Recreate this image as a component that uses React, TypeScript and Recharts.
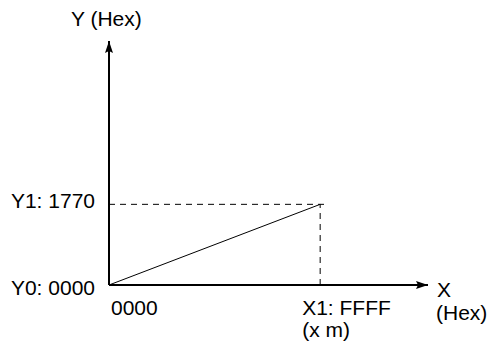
import { LineChart, Line, XAxis, YAxis, ReferenceLine, ReferenceDot } from "recharts";

// X and Y values (decimal of the hex values in the picture)
const xValues = [0, 65535]; // 0000 .. FFFF
const yValues = [0, 6000]; // 0000 .. 1770
const xTickLabels = ["0000", "X1: FFFF"];
const xTickSubLabels = ["", "(x m)"];
const yTickLabels = ["Y0: 0000", "Y1: 1770"];
const xMax = 99000;
const yMax = 18150;
const dashEndX = 67700;

const data = xValues.map((x, i) => ({ x, y: yValues[i] }));

const FONT = "'Liberation Sans', Arial, sans-serif";
const FS = 21;

const XTick = (props: any) => {
  const { x, y, index } = props;
  const dx = index === 0 ? 2 : -18;
  return (
    <g>
      <text x={x + dx} y={y + 22} fontSize={FS} fontFamily={FONT} fill="#000" textAnchor="start">
        {xTickLabels[index]}
      </text>
      {xTickSubLabels[index] ? (
        <text x={x + dx} y={y + 44} fontSize={FS} fontFamily={FONT} fill="#000" textAnchor="start">
          {xTickSubLabels[index]}
        </text>
      ) : null}
    </g>
  );
};

const YTick = (props: any) => {
  const { x, y, index } = props;
  // the lower label sits just under the x axis
  const dy = index === 0 ? 10 : 4;
  return (
    <text x={x - 6} y={y + dy} fontSize={FS} fontFamily={FONT} fill="#000" textAnchor="end">
      {yTickLabels[index]}
    </text>
  );
};

const ArrowRight = (props: any) => {
  const { cx, cy } = props;
  return (
    <polygon
      points={`${cx},${cy} ${cx - 12},${cy - 4} ${cx - 10},${cy} ${cx - 12},${cy + 4}`}
      fill="#000"
    />
  );
};

const ArrowUp = (props: any) => {
  const { cx, cy } = props;
  return (
    <polygon
      points={`${cx},${cy} ${cx - 4},${cy + 12} ${cx},${cy + 10} ${cx + 4},${cy + 12}`}
      fill="#000"
    />
  );
};

export default function App() {
  return (
    <div style={{ position: "absolute", left: 0, top: 0, width: 491, height: 348, background: "#fff" }}>
      <LineChart width={491} height={348} data={data} margin={{ top: 41, right: 63, bottom: 62, left: 108 }}>
        <XAxis
          dataKey="x"
          type="number"
          domain={[0, xMax]}
          ticks={xValues}
          height={1}
          tickLine={false}
          axisLine={{ stroke: "#000", strokeWidth: 2 }}
          tick={<XTick />}
          interval={0}
          label={{
            content: (p: any) => {
              const vb = p.viewBox;
              return (
                <g fontSize={FS} fontFamily={FONT} fill="#000">
                  <text x={vb.x + vb.width + 9} y={vb.y + 12}>X</text>
                  <text x={vb.x + vb.width + 8} y={vb.y + 35}>(Hex)</text>
                </g>
              );
            },
          }}
        />
        <YAxis
          type="number"
          domain={[0, yMax]}
          ticks={yValues}
          width={1}
          tickLine={false}
          axisLine={{ stroke: "#000", strokeWidth: 2 }}
          tick={<YTick />}
          interval={0}
          label={{
            content: (p: any) => {
              const vb = p.viewBox;
              return (
                <text x={vb.x - 37} y={vb.y - 15} fontSize={FS} fontFamily={FONT} fill="#000">
                  Y (Hex)
                </text>
              );
            },
          }}
        />
        <ReferenceLine
          segment={[{ x: 0, y: yValues[1] }, { x: dashEndX, y: yValues[1] }]}
          stroke="#000"
          strokeWidth={1}
          strokeDasharray="6 5"
          ifOverflow="visible"
        />
        <ReferenceLine
          segment={[{ x: xValues[1], y: 0 }, { x: xValues[1], y: yValues[1] }]}
          stroke="#000"
          strokeWidth={1}
          strokeDasharray="6 5"
          ifOverflow="visible"
        />
        <Line dataKey="y" stroke="#000" strokeWidth={1} dot={false} isAnimationActive={false} />
        <ReferenceDot x={xMax} y={0} shape={<ArrowRight />} ifOverflow="visible" />
        <ReferenceDot x={0} y={yMax} shape={<ArrowUp />} ifOverflow="visible" />
      </LineChart>
    </div>
  );
}
